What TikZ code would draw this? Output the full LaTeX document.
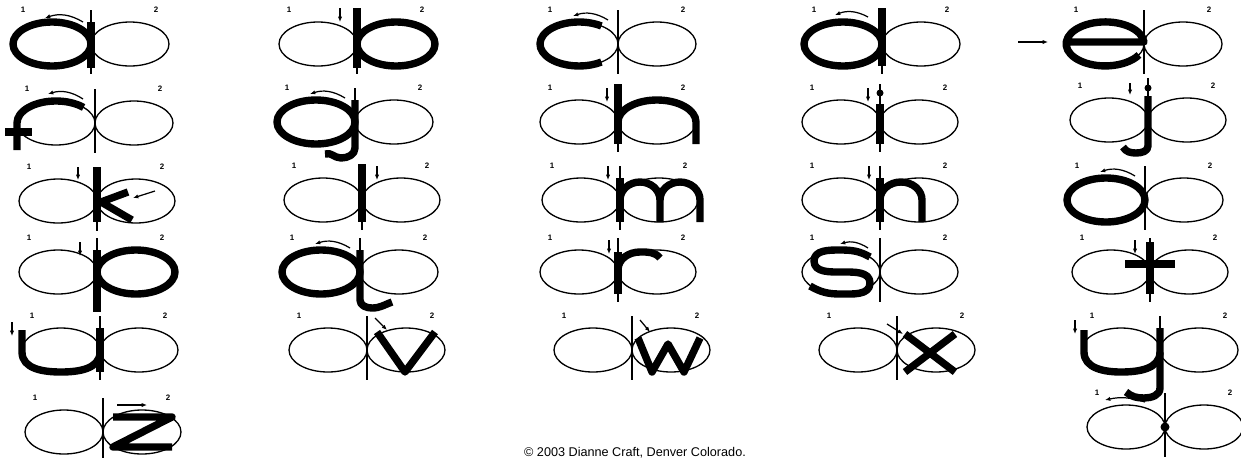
\documentclass[tikz,border=0pt]{standalone}
\usepackage{fontspec}
\setsansfont{Liberation Sans}
\usetikzlibrary{arrows.meta}

\tikzset{
  guide/.style={line width=0.75pt},
  ink/.style={line width=4.2pt, line join=round},
  arr/.style={-{Latex[length=3pt,width=2.4pt]}, line width=0.7pt},
  num/.style={font=\sffamily\bfseries\fontsize{4.5}{5}\selectfont, inner sep=0pt},
  pics/cellguide/.style={code={
    \draw[guide] (-39,0) ellipse [x radius=39, y radius=22];
    \draw[guide] (39,0) ellipse [x radius=39, y radius=22];
    \draw[guide] (0,34) -- (0,-30);
    \node[num] (one) at (-68,34) {1};
    \node[num] (two) at (65,34) {2};
  }}
}

\begin{document}
\begin{tikzpicture}[x=0.02cm, y=0.02cm]
\useasboundingbox (0,0) rectangle (1241,-457);

% row 1: a b c d e
\begin{scope}[shift={(91,-44)}]
  \pic {cellguide};
  \draw[ink] (-39,0) ellipse [x radius=39, y radius=22];
  \draw[ink] (0,22) -- (0,-24);
  \draw[arr] (-8,22) to[bend right=25] (-46,26);
\end{scope}
\begin{scope}[shift={(357,-44)}]
  \pic {cellguide};
  \draw[ink] (39,0) ellipse [x radius=39, y radius=22];
  \draw[ink] (0,36) -- (0,-24);
  \draw[arr] (-17,36) -- (-17,22);
\end{scope}
\begin{scope}[shift={(618,-44)}]
  \pic {cellguide};
  \draw[ink] (-39,0) ++(55:39 and 22) arc[start angle=55, end angle=305, x radius=39, y radius=22];
  \draw[arr] (-10,24) to[bend right=25] (-45,28);
\end{scope}
\begin{scope}[shift={(882,-44)}]
  \pic {cellguide};
  \draw[ink] (-39,0) ellipse [x radius=39, y radius=22];
  \draw[ink] (0,36) -- (0,-22);
  \draw[arr] (-14,27) to[bend right=25] (-47,29);
\end{scope}
\begin{scope}[shift={(1144,-44)}]
  \pic {cellguide};
  \draw[ink] (-78,2) -- (0,2) arc[start angle=5, end angle=330, x radius=39, y radius=22];
  \draw[arr] (-126,2) -- (-96,2);
\end{scope}

% row 2: f g h i j
\begin{scope}[shift={(95,-123)}]
  \pic {cellguide};
  \draw[ink] (-39,0) ++(45:39 and 22) arc[start angle=45, end angle=180, x radius=39, y radius=22] -- (-78,-27);
  \draw[ink] (-90,-9) -- (-63,-9);
  \draw[arr] (-12,24) to[bend right=25] (-47,29);
\end{scope}
\begin{scope}[shift={(355,-122)}]
  \pic {cellguide};
  \draw[ink] (-39,0) ellipse [x radius=39, y radius=22];
  \draw[ink] (0,22) -- (0,-26) to[out=-90, in=0] (-14,-36) to[out=180, in=20] (-30,-32);
  \draw[arr] (-10,24) to[bend right=25] (-45,28);
\end{scope}
\begin{scope}[shift={(618,-122)}]
  \pic {cellguide};
  \draw[ink] (0,38) -- (0,-22);
  \draw[ink] (0,0) arc[start angle=180, end angle=0, x radius=39, y radius=22] -- (78,-22);
  \draw[arr] (-11,34) -- (-11,20);
\end{scope}
\begin{scope}[shift={(880,-122)}]
  \pic {cellguide};
  \draw[ink] (0,18) -- (0,-22);
  \draw[guide] (0,38) -- (0,29);
  \fill (0,29) circle (3.5);
  \draw[arr] (-12,34) -- (-12,20);
\end{scope}
\begin{scope}[shift={(1148,-120)}]
  \pic {cellguide};
  \draw[ink] (0,24) -- (0,-26) to[out=-90, in=0] (-12,-33) to[out=180, in=-60] (-25,-27);
  \draw[guide] (0,42) -- (0,32);
  \fill (0,32) circle (3.5);
  \draw[arr] (-18,37) -- (-18,25);
\end{scope}

% row 3: k l m n o
\begin{scope}[shift={(97,-201)}]
  \pic {cellguide};
  \draw[ink] (0,34) -- (0,-21);
  \draw[ink] (31,9) -- (4,-1) -- (35,-19);
  \draw[arr] (58,10) -- (36,3);
  \draw[arr] (-19,34) -- (-19,21);
\end{scope}
\begin{scope}[shift={(362,-200)}]
  \pic {cellguide};
  \draw[ink] (0,36) -- (0,-22);
  \draw[arr] (15,34) -- (15,20);
\end{scope}
\begin{scope}[shift={(620,-200)}]
  \pic {cellguide};
  \draw[ink] (0,22) -- (0,-22);
  \draw[ink] (0,0) arc[start angle=180, end angle=0, x radius=20, y radius=18] -- (40,-22);
  \draw[ink] (40,0) arc[start angle=180, end angle=0, x radius=20, y radius=18] -- (80,-22);
  \draw[arr] (-12,34) -- (-12,20);
\end{scope}
\begin{scope}[shift={(880,-200)}]
  \pic {cellguide};
  \draw[ink] (0,22) -- (0,-22);
  \draw[ink] (0,0) arc[start angle=180, end angle=0, x radius=21, y radius=18] -- (42,-22);
  \draw[arr] (-11,34) -- (-11,20);
\end{scope}
\begin{scope}[shift={(1145,-200)}]
  \pic {cellguide};
  \draw[ink] (-39,0) ellipse [x radius=39, y radius=22];
  \draw[arr] (-10,24) to[bend right=25] (-45,28);
\end{scope}

% row 4: p q r s t
\begin{scope}[shift={(97,-272)}]
  \pic {cellguide};
  \draw[ink] (39,0) ellipse [x radius=39, y radius=22];
  \draw[ink] (0,22) -- (0,-40);
  \draw[arr] (-17,30) -- (-17,16);
\end{scope}
\begin{scope}[shift={(360,-272)}]
  \pic {cellguide};
  \draw[ink] (-39,0) ellipse [x radius=39, y radius=22];
  \draw[ink] (0,22) -- (0,-28) to[out=-90, in=180] (12,-36) to[out=0, in=200] (32,-30);
  \draw[arr] (-10,24) to[bend right=25] (-45,28);
\end{scope}
\begin{scope}[shift={(618,-272)}]
  \pic {cellguide};
  \draw[ink] (0,20) -- (0,-22);
  \draw[ink] (0,2) to[out=90, in=180] (22,20) to[out=0, in=130] (42,14);
  \draw[arr] (-9,32) -- (-9,18);
\end{scope}
\begin{scope}[shift={(880,-272)}]
  \pic {cellguide};
  \draw[ink] (-10,15) to[out=150, in=0] (-40,22) to[out=180, in=90] (-66,11) to[out=-90, in=180] (-38,0)
    to[out=0, in=90] (-10,-11) to[out=-90, in=0] (-40,-22) to[out=180, in=-30] (-70,-14);
  \draw[arr] (-12,24) to[bend right=25] (-40,28);
\end{scope}
\begin{scope}[shift={(1150,-272)}]
  \pic {cellguide};
  \draw[ink] (0,30) -- (0,-22);
  \draw[ink] (-25,8) -- (25,8);
  \draw[arr] (-15,32) -- (-15,18);
\end{scope}

% row 5: u v w x y
\begin{scope}[shift={(100,-350)}]
  \pic {cellguide};
  \draw[ink] (-78,20) -- (-78,-2) to[out=-90, in=180] (-39,-22) to[out=0, in=-90] (0,-2);
  \draw[ink] (0,22) -- (0,-22);
  \draw[arr] (-88,28) -- (-88,14);
\end{scope}
\begin{scope}[shift={(367,-350)}]
  \pic {cellguide};
  \draw[ink] (10,18) -- (38,-22) -- (68,18);
  \draw[arr] (8,32) -- (20,20);
\end{scope}
\begin{scope}[shift={(632,-350)}]
  \pic {cellguide};
  \draw[ink] (6,12) -- (20,-22) -- (36,6) -- (52,-22) -- (68,12);
  \draw[arr] (8,30) -- (18,18);
\end{scope}
\begin{scope}[shift={(897,-350)}]
  \pic {cellguide};
  \draw[ink] (8,16) -- (58,-22);
  \draw[ink] (58,16) -- (8,-22);
  \draw[arr] (-10,26) -- (6,16);
\end{scope}
\begin{scope}[shift={(1160,-350)}]
  \pic {cellguide};
  \draw[ink] (-76,20) -- (-76,-2) to[out=-90, in=180] (-39,-22) to[out=0, in=-90] (0,-2);
  \draw[ink] (0,22) -- (0,-38) to[out=-90, in=0] (-16,-48) to[out=180, in=-40] (-34,-42);
  \draw[arr] (-85,30) -- (-85,16);
\end{scope}

% row 6: z and the start point
\begin{scope}[shift={(103,-432)}]
  \pic {cellguide};
  \draw[ink] (10,15) -- (69,15) -- (10,-15) -- (69,-15);
  \draw[arr] (14,27) -- (44,27);
\end{scope}
\begin{scope}[shift={(1165,-427)}]
  \pic {cellguide};
  \fill (0,0) circle (4.5);
  \draw[arr] (-20,25) to[bend right=15] (-60,27);
\end{scope}

\node[font=\sffamily\fontsize{7.2}{9}\selectfont] (credit) at (635,-453) {© 2003 Dianne Craft, Denver Colorado.};
\end{tikzpicture}
\end{document}
